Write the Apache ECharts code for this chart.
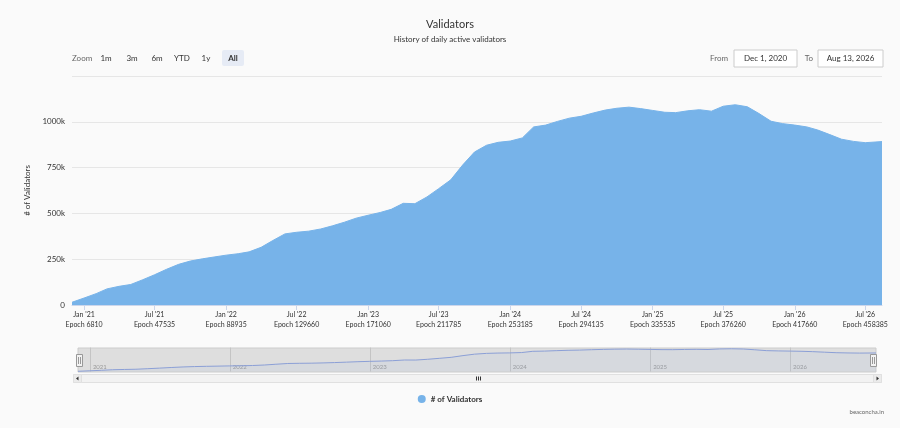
<!DOCTYPE html>
<html>
<head>
<meta charset="utf-8">
<script src="https://cdn.jsdelivr.net/npm/echarts@6/dist/echarts.min.js"></script>
<style>
html,body{margin:0;padding:0;background:#fafafa;}
#chart{width:900px;height:428px;}
</style>
</head>
<body>
<div id="chart"></div>
<script>
// ---- data ----
var dates = [
 '2020-12-01','2021-01-01','2021-02-01','2021-03-01','2021-04-01','2021-05-01','2021-06-01','2021-07-01','2021-08-01','2021-09-01','2021-10-01','2021-11-01','2021-12-01',
 '2022-01-01','2022-02-01','2022-03-01','2022-04-01','2022-05-01','2022-06-01','2022-07-01','2022-08-01','2022-09-01','2022-10-01','2022-11-01','2022-12-01',
 '2023-01-01','2023-02-01','2023-03-01','2023-04-01','2023-05-01','2023-06-01','2023-07-01','2023-08-01','2023-09-01','2023-10-01','2023-11-01','2023-12-01',
 '2024-01-01','2024-02-01','2024-03-01','2024-04-01','2024-05-01','2024-06-01','2024-07-01','2024-08-01','2024-09-01','2024-10-01','2024-11-01','2024-12-01',
 '2025-01-01','2025-02-01','2025-03-01','2025-04-01','2025-05-01','2025-06-01','2025-07-01','2025-08-01','2025-09-01','2025-10-01','2025-11-01','2025-12-01',
 '2026-01-01','2026-02-01','2026-03-01','2026-04-01','2026-05-01','2026-06-01','2026-07-01','2026-08-13'
];
var validators = [
 15000,38000,62000,88000,102000,112000,138000,165000,195000,222000,240000,252000,262000,
 272000,280000,290000,315000,352000,388000,397000,403000,415000,432000,452000,474000,
 490000,505000,522000,555000,553000,590000,635000,683000,765000,835000,872000,888000,
 895000,912000,972000,982000,1002000,1020000,1030000,1048000,1064000,1074000,1080000,1072000,
 1062000,1052000,1050000,1060000,1066000,1058000,1085000,1093000,1082000,1045000,1003000,990000,
 982000,972000,955000,930000,905000,893000,886000,892000
];
var tickDates = ['2021-01-01','2021-07-01','2022-01-01','2022-07-01','2023-01-01','2023-07-01','2024-01-01','2024-07-01','2025-01-01','2025-07-01','2026-01-01','2026-07-01'];
var tickMonths = ["Jan '21","Jul '21","Jan '22","Jul '22","Jan '23","Jul '23","Jan '24","Jul '24","Jan '25","Jul '25","Jan '26","Jul '26"];
var tickEpochs = ['6810','47535','88935','129660','171060','211785','253185','294135','335535','376260','417660','458385'];
var yTicks = [0, 250000, 500000, 750000, 1000000, 1250000];
var navYears = ['2021','2022','2023','2024','2025','2026'];
var navYearDates = ['2021-01-01','2022-01-01','2023-01-01','2024-01-01','2025-01-01','2026-01-01'];

// ---- build ----
function ts(s){var p=s.split('-');return Date.UTC(+p[0],+p[1]-1,+p[2]);}
var seriesData = dates.map(function(d,i){return [ts(d), validators[i]];});
var tickTimes = tickDates.map(ts);
var navTimes = navYearDates.map(ts);
var xMin = ts('2020-12-01'), xMax = ts('2026-08-13');
function findIdx(arr, v){for(var i=0;i<arr.length;i++){if(Math.abs(arr[i]-v)<86400000)return i;}return -1;}

var FONT = 'Lato, "Noto Sans", sans-serif';
var chart = echarts.init(document.getElementById('chart'), null, {renderer:'canvas'});
var btns = [['1m',106],['3m',132],['6m',157],['YTD',182],['1y',206]];
var graphics = [
  {type:'text', x:72, y:58, style:{text:'Zoom', fill:'#666', font:'8px '+FONT, verticalAlign:'middle'}},
  {type:'rect', shape:{x:222,y:50,width:22,height:16,r:2}, style:{fill:'#e6ebf5'}},
  {type:'text', x:233, y:58, style:{text:'All', fill:'#333', font:'bold 8px '+FONT, align:'center', verticalAlign:'middle'}},
  {type:'text', x:728, y:58, style:{text:'From', fill:'#666', font:'8px '+FONT, align:'right', verticalAlign:'middle'}},
  {type:'rect', shape:{x:734,y:50,width:63,height:17}, style:{fill:'#fff', stroke:'#cccccc', lineWidth:1}},
  {type:'text', x:765.5, y:58.5, style:{text:'Dec 1, 2020', fill:'#333', font:'8px '+FONT, align:'center', verticalAlign:'middle'}},
  {type:'text', x:813, y:58, style:{text:'To', fill:'#666', font:'8px '+FONT, align:'right', verticalAlign:'middle'}},
  {type:'rect', shape:{x:818,y:50,width:65,height:17}, style:{fill:'#fff', stroke:'#cccccc', lineWidth:1}},
  {type:'text', x:850.5, y:58.5, style:{text:'Aug 13, 2026', fill:'#333', font:'8px '+FONT, align:'center', verticalAlign:'middle'}},
  {type:'text', x:884, y:412, style:{text:'beaconcha.in', fill:'#666', font:'6px '+FONT, align:'right', verticalAlign:'middle'}},
  // navigator handles
  {type:'rect', z:10, shape:{x:76.5,y:354.5,width:6,height:12}, style:{fill:'#f2f2f2', stroke:'#999', lineWidth:1}},
  {type:'line', z:11, shape:{x1:78.5,y1:357,x2:78.5,y2:364}, style:{stroke:'#999'}},
  {type:'line', z:11, shape:{x1:80.5,y1:357,x2:80.5,y2:364}, style:{stroke:'#999'}},
  {type:'rect', z:10, shape:{x:870.5,y:354.5,width:6,height:12}, style:{fill:'#f2f2f2', stroke:'#999', lineWidth:1}},
  {type:'line', z:11, shape:{x1:872.5,y1:357,x2:872.5,y2:364}, style:{stroke:'#999'}},
  {type:'line', z:11, shape:{x1:874.5,y1:357,x2:874.5,y2:364}, style:{stroke:'#999'}},
  // scrollbar
  {type:'rect', shape:{x:73.5,y:374.5,width:808,height:8}, style:{fill:'#f2f2f2', stroke:'#e0e0e0', lineWidth:1}},
  {type:'rect', shape:{x:73.5,y:374.5,width:8,height:8}, style:{fill:'#ebebeb', stroke:'#e0e0e0', lineWidth:1}},
  {type:'rect', shape:{x:873.5,y:374.5,width:8,height:8}, style:{fill:'#ebebeb', stroke:'#e0e0e0', lineWidth:1}},
  {type:'polygon', shape:{points:[[78.5,376.5],[78.5,380.5],[76,378.5]]}, style:{fill:'#333'}},
  {type:'polygon', shape:{points:[[876.5,376.5],[876.5,380.5],[879,378.5]]}, style:{fill:'#333'}},
  {type:'line', shape:{x1:476.5,y1:376.5,x2:476.5,y2:380.5}, style:{stroke:'#333'}},
  {type:'line', shape:{x1:478.5,y1:376.5,x2:478.5,y2:380.5}, style:{stroke:'#333'}},
  {type:'line', shape:{x1:480.5,y1:376.5,x2:480.5,y2:380.5}, style:{stroke:'#333'}}
];
btns.forEach(function(b){
  graphics.push({type:'text', x:b[1], y:58, style:{text:b[0], fill:'#333', font:'8px '+FONT, align:'center', verticalAlign:'middle'}});
});

var option = {
  backgroundColor:'#fafafa',
  animation:false,
  textStyle:{fontFamily:FONT},
  title:{
    text:'Validators', subtext:'History of daily active validators',
    left:'center', top:14, itemGap:5,
    textStyle:{fontSize:11, fontWeight:'normal', color:'#333', fontFamily:FONT},
    subtextStyle:{fontSize:8, color:'#333', fontFamily:FONT}
  },
  legend:{
    bottom:20, left:'center', icon:'circle', itemWidth:8, itemHeight:8, itemGap:6,
    data:['# of Validators'],
    textStyle:{fontSize:8, fontWeight:'bold', color:'#333', fontFamily:FONT}
  },
  grid:[
    {left:72, right:18, top:76, bottom:123, containLabel:false},
    {left:78, right:24, top:348, height:24, show:true, backgroundColor:'#dedede', borderColor:'#cccccc', borderWidth:1}
  ],
  xAxis:[
    {
      type:'value', gridIndex:0, min:xMin, max:xMax,
      axisLine:{lineStyle:{color:'#ccd6eb'}},
      axisTick:{show:true, customValues:tickTimes, length:5, lineStyle:{color:'#ccd6eb'}},
      splitLine:{show:false},
      axisLabel:{
        customValues:tickTimes, margin:5, fontSize:7, color:'#333', lineHeight:10, hideOverlap:false,
        formatter:function(v){var i=findIdx(tickTimes,v); return i<0?'':tickMonths[i]+'\nEpoch '+tickEpochs[i];}
      }
    },
    {
      type:'value', gridIndex:1, min:xMin, max:xMax,
      axisLine:{show:false},
      axisTick:{show:true, customValues:navTimes, inside:true, length:24, lineStyle:{color:'#c4c4c4'}},
      splitLine:{show:false},
      axisLabel:{
        customValues:navTimes, inside:true, margin:2, fontSize:6, color:'#999', align:'left', padding:[0,0,0,3],
        formatter:function(v){var i=findIdx(navTimes,v); return i<0?'':navYears[i];}
      }
    }
  ],
  yAxis:[
    {
      type:'value', gridIndex:0, min:yTicks[0], max:yTicks[yTicks.length-1], interval:250000,
      name:'# of Validators', nameLocation:'middle', nameGap:41, nameRotate:90,
      nameTextStyle:{fontSize:8, color:'#333', fontFamily:FONT},
      axisLine:{show:false}, axisTick:{show:false},
      axisLabel:{fontSize:8, color:'#333', margin:7, showMaxLabel:false,
        formatter:function(v){return v===0?'0':(v/1000)+'k';}},
      splitLine:{show:true, lineStyle:{color:'#e6e6e6', width:1}}
    },
    {
      type:'value', gridIndex:1, min:-20000, max:1130000, show:false,
      splitLine:{show:false}
    }
  ],
  series:[
    {
      name:'# of Validators', type:'line', xAxisIndex:0, yAxisIndex:0,
      data:seriesData, symbol:'none', showSymbol:false, silent:true,
      itemStyle:{color:'#77b3e9'},
      lineStyle:{color:'#77b3e9', width:1},
      areaStyle:{color:'#77b3e9', opacity:1}
    },
    {
      name:'nav', type:'line', xAxisIndex:1, yAxisIndex:1,
      data:seriesData, symbol:'none', showSymbol:false, silent:true,
      lineStyle:{color:'#8b9fd6', width:1},
      areaStyle:{color:'#9fb3e0', opacity:0.12}
    }
  ],
  graphic:graphics
};
chart.setOption(option);
</script>
</body>
</html>
